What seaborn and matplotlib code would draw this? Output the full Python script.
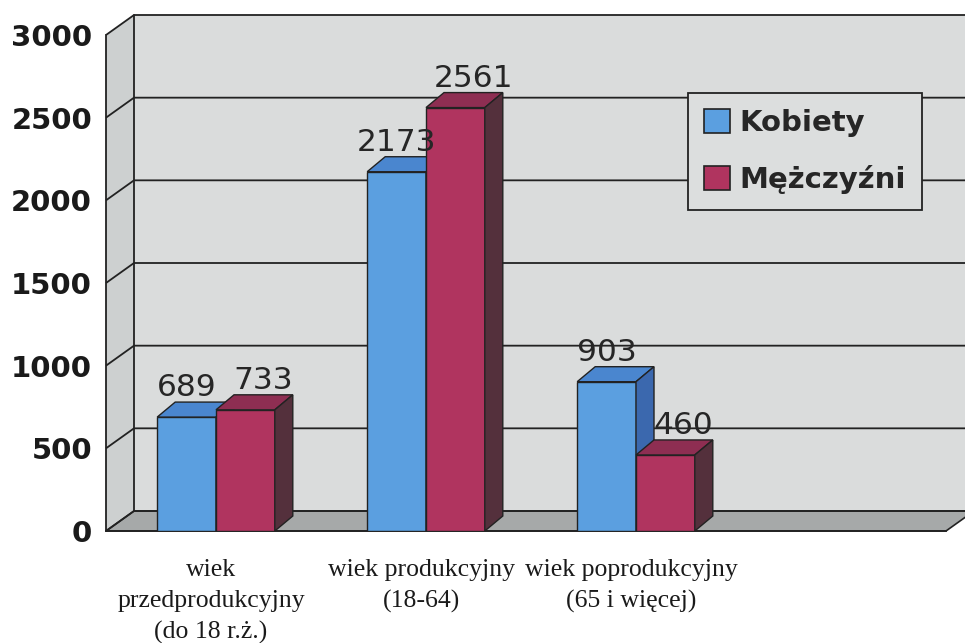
import numpy as np
import pandas as pd
import matplotlib
matplotlib.use("Agg")
import matplotlib.pyplot as plt
from matplotlib.patches import Polygon, Patch, Rectangle
import seaborn as sns

# ---- data ----
categories = ["wiek\nprzedprodukcyjny\n(do 18 r.ż.)",
              "wiek produkcyjny\n(18-64)",
              "wiek poprodukcyjny\n(65 i więcej)"]
series_names = ["Kobiety", "Mężczyźni"]
kobiety = [689, 2173, 903]
mezczyzni = [733, 2561, 460]
y_ticks = [0, 500, 1000, 1500, 2000, 2500, 3000]

df = pd.DataFrame({
    "grupa": categories * 2,
    "liczba": kobiety + mezczyzni,
    "plec": [series_names[0]] * 3 + [series_names[1]] * 3,
})

# ---- styles ----
FRONT = ["#5b9fe0", "#b0345f"]
TOP = ["#4a86cf", "#8e2e52"]
SIDE = ["#3b68ae", "#54303c"]
EDGE = "#222222"
BACK_WALL = "#dadcdc"
SIDE_WALL = "#cdd0d0"
FLOOR = "#a6a9a9"

sns.set_style("white")
plt.rcParams["font.family"] = ["DejaVu Sans"]

W, H = 965, 643
fig = plt.figure(figsize=(W / 100, H / 100), dpi=100)
x0p, x1p, y0p, y1p = 106, 946, 531, 35
ax = fig.add_axes([x0p / W, (H - y0p) / H, (x1p - x0p) / W, (y0p - y1p) / H])

sns.barplot(data=df, x="grupa", y="liczba", hue="plec", order=categories,
            hue_order=series_names, palette=FRONT, width=0.56,
            edgecolor=EDGE, linewidth=1.0, saturation=1, legend=False, ax=ax)

XMIN, XMAX, YMAX = -0.5, 3.5, 3000
ax.set_xlim(XMIN, XMAX)
ax.set_ylim(0, YMAX)
xs = (x1p - x0p) / (XMAX - XMIN)     # px per category unit
ys = (y0p - y1p) / YMAX              # px per value unit
WX, WY = 28 / xs, 20 / ys            # wall depth
BX, BY = 18 / xs, 15 / ys            # bar depth
SHIFT = 5 / xs                       # small rightward offset of bar groups

# walls & floor
ax.add_patch(Polygon([(XMIN, 0), (XMIN, YMAX), (XMIN + WX, YMAX + WY), (XMIN + WX, WY)],
                     closed=True, facecolor=SIDE_WALL, edgecolor="none", zorder=0.5, clip_on=False))
ax.add_patch(Polygon([(XMIN + WX, WY), (XMAX + WX, WY), (XMAX + WX, YMAX + WY), (XMIN + WX, YMAX + WY)],
                     closed=True, facecolor=BACK_WALL, edgecolor="none", zorder=0.5, clip_on=False))
ax.add_patch(Polygon([(XMIN, 0), (XMAX, 0), (XMAX + WX, WY), (XMIN + WX, WY)],
                     closed=True, facecolor=FLOOR, edgecolor=EDGE, linewidth=1.2, zorder=0.7, clip_on=False))
for v in y_ticks:
    ax.plot([XMIN, XMIN + WX, XMAX + WX], [v, v + WY, v + WY], color=EDGE, lw=1.3,
            zorder=0.8, clip_on=False, solid_capstyle="butt")
ax.plot([XMIN + WX, XMIN + WX], [WY, YMAX + WY], color=EDGE, lw=1.3, zorder=0.8, clip_on=False)

# 3D faces of bars
n_cat = len(categories)
bars = [pp for pp in ax.patches if isinstance(pp, Rectangle)]
for i, p in enumerate(bars):
    hue_i = i // n_cat
    p.set_x(p.get_x() + SHIFT)
    bx, bw, bh = p.get_x(), p.get_width(), p.get_height()
    p.set_zorder(3 + hue_i)
    top = Polygon([(bx, bh), (bx + bw, bh), (bx + bw + BX, bh + BY), (bx + BX, bh + BY)],
                  closed=True, facecolor=TOP[hue_i], edgecolor=EDGE, lw=1.0, zorder=3 + hue_i, clip_on=False)
    side = Polygon([(bx + bw, 0), (bx + bw + BX, BY), (bx + bw + BX, bh + BY), (bx + bw, bh)],
                   closed=True, facecolor=SIDE[hue_i], edgecolor=EDGE, lw=1.0, zorder=3 + hue_i, clip_on=False)
    ax.add_patch(top)
    ax.add_patch(side)
    lx = bx + bw / 2 + (BX if hue_i == 1 else 0)
    ax.text(lx, bh + BY, f"{int(round(bh))}", ha="center", va="bottom",
            fontsize=22.5, color="#262626", zorder=6, clip_on=False)

# axes
for s in ["top", "right"]:
    ax.spines[s].set_visible(False)
for s in ["left", "bottom"]:
    ax.spines[s].set_color(EDGE)
    ax.spines[s].set_linewidth(1.3)
    ax.spines[s].set_zorder(2)

ax.set_yticks(y_ticks)
ax.set_yticklabels([str(v) for v in y_ticks], fontsize=21, fontweight="bold", color="#1a1a1a")
xt = np.arange(XMIN, XMAX + 0.01, 0.5)
labels = []
for t in xt:
    if abs(t - round(t)) < 1e-6 and 0 <= int(round(t)) < n_cat:
        labels.append(categories[int(round(t))])
    else:
        labels.append("")
ax.set_xticks(xt)
ax.set_xticklabels(labels, fontsize=18.5, family="Liberation Serif", color="#1a1a1a",
                   linespacing=1.52)
ax.tick_params(axis="both", direction="out", length=7, width=1.3, color=EDGE)
ax.tick_params(axis="x", pad=13)
ax.tick_params(axis="y", pad=3)
ax.set_xlabel("")
ax.set_ylabel("")

handles = [Patch(facecolor=FRONT[i], edgecolor=EDGE, linewidth=1.2) for i in range(2)]
leg = ax.legend(handles, series_names, loc="upper left",
                bbox_to_anchor=(688 / W, 1 - 93 / H), bbox_transform=fig.transFigure,
                prop={"size": 21, "weight": "bold"}, frameon=True, fancybox=False,
                framealpha=1, facecolor="#dcdede", edgecolor=EDGE,
                handlelength=0.9, handleheight=0.9, handletextpad=0.3,
                borderpad=0.55, labelspacing=0.95, borderaxespad=0)
leg.get_frame().set_linewidth(1.3)
leg.set_zorder(10)

fig.savefig("out.png", dpi=100)
